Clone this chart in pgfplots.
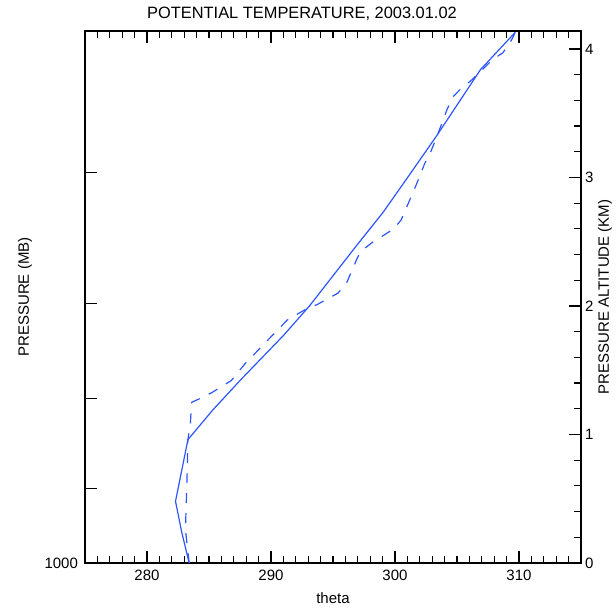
\documentclass[border=0pt]{standalone}
\usepackage{fontspec}
\setmainfont{Liberation Sans}
\usepackage{pgfplots}
\pgfplotsset{compat=1.18}
\definecolor{lineblue}{RGB}{45,85,255}

\pgfplotsset{
  base/.style={
    scale only axis, width=248pt, height=266pt,
    xmin=275, xmax=315, ymin=0, ymax=4.14,
    font=\fontsize{7.5}{9}\selectfont,
    /pgf/number format/assume math mode=true,
    tick align=inside, major tick length=6pt, minor tick length=3.5pt,
    every tick/.style={black, line width=0.6pt},
    axis line style={line width=0.7pt},
  }
}

\begin{document}
\begin{tikzpicture}
% main axis: theta vs height, pressure on the left
\begin{axis}[base,
  xtick={280,290,300,310}, minor xtick={276,...,314},
  xtick pos=both, xticklabel pos=lower,
  ytick={0,0.58,1.28,2.02,3.04}, yticklabels={1000,,,,},
  ytick pos=left, minor ytick={},
  title={POTENTIAL TEMPERATURE, 2003.01.02},
  every axis title/.style={at={(rel axis cs:0.4375,1)}, anchor=center, yshift=8.5pt, font=\fontsize{8.2}{10}\selectfont},
  xlabel={theta},
  every axis x label/.style={at={(rel axis cs:0.5,0)}, anchor=center, yshift=-17.5pt},
  ylabel={PRESSURE (MB)},
  every axis y label/.style={at={(rel axis cs:0,0.5)}, rotate=90, anchor=center, yshift=30pt},
]
% solid profile
\addplot[lineblue, line width=0.6pt, no marks] coordinates {
  (283.4,0) (282.8,0.24) (282.3,0.48) (282.8,0.72) (283.3,0.96)
  (285.3,1.19) (287.5,1.42) (291.0,1.77) (293.1,2.00) (296.9,2.47)
  (299.05,2.73) (300.8,2.97) (303.4,3.33) (306.9,3.84) (309.7,4.13)
};
% dashed profile
\addplot[lineblue, line width=0.6pt, no marks, dash pattern=on 5pt off 5pt] coordinates {
  (283.4,0) (283.1,0.26) (283.2,0.57) (283.25,0.74) (283.3,0.96)
  (283.5,1.09) (283.6,1.25) (284.5,1.29) (285.3,1.33) (286.8,1.42)
  (287.9,1.55) (289.5,1.71) (291.3,1.89) (292.9,1.98) (293.7,2.01)
  (295.4,2.10) (296.1,2.18) (296.9,2.36) (297.2,2.42) (298.1,2.49)
  (299.9,2.60) (300.5,2.67) (300.9,2.76) (301.7,2.94) (302.4,3.11)
  (302.8,3.18) (303.3,3.30) (303.9,3.45) (304.2,3.53) (304.7,3.63)
  (305.2,3.68) (306.2,3.76) (307.9,3.92) (308.7,3.97) (309.4,4.07)
  (309.7,4.13)
};
\end{axis}
% right axis: pressure altitude in km
\begin{axis}[base,
  axis x line=none, axis y line*=right,
  ytick={0,1,2,3,4},
  minor ytick={0.2,0.4,0.6,0.8,1.2,1.4,1.6,1.8,2.2,2.4,2.6,2.8,3.2,3.4,3.6,3.8},
  yticklabel style={xshift=-1.5pt},
  ylabel={PRESSURE ALTITUDE (KM)},
  every axis y label/.style={at={(rel axis cs:1,0.5)}, rotate=90, anchor=center, yshift=-12pt},
]
\end{axis}
\pgfresetboundingbox
\path[use as bounding box] (-42.5pt,-22.5pt) rectangle (265.5pt,281.5pt);
\end{tikzpicture}
\end{document}
